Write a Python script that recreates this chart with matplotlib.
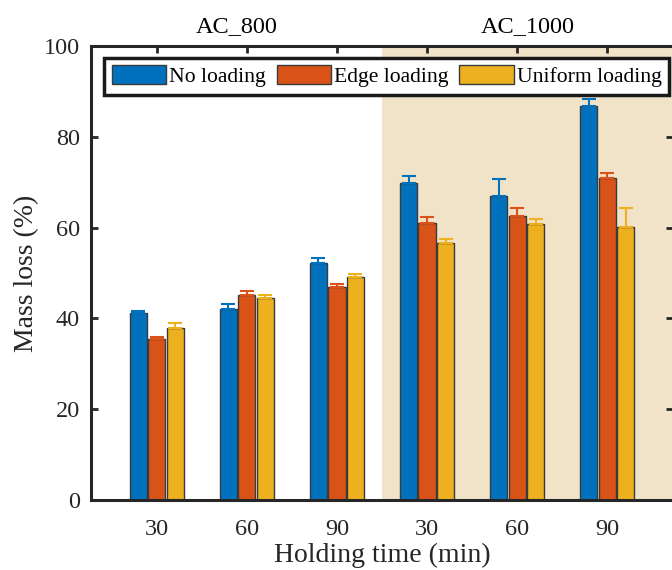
import matplotlib
matplotlib.use('Agg')
import matplotlib.pyplot as plt
import numpy as np

# Holding time categories for the two carbonisation sets
groups = ['AC_800', 'AC_1000']
tick_labels = ['30', '60', '90', '30', '60', '90']

# Mass loss (%) and upper error for each loading case
no_loading = [41.2, 42.0, 52.3, 69.9, 67.0, 86.8]
no_loading_err = [0.4, 1.1, 0.9, 1.5, 3.8, 1.6]
edge_loading = [35.4, 45.1, 46.9, 61.1, 62.6, 71.0]
edge_loading_err = [0.5, 0.9, 0.6, 1.3, 1.8, 1.1]
uniform_loading = [37.9, 44.5, 49.1, 56.5, 60.7, 60.2]
uniform_loading_err = [1.1, 0.6, 0.6, 0.9, 1.1, 4.2]

series = [
    ('No loading', no_loading, no_loading_err, '#0072BD'),
    ('Edge loading', edge_loading, edge_loading_err, '#D95319'),
    ('Uniform loading', uniform_loading, uniform_loading_err, '#EDB120'),
]

plt.rcParams['font.family'] = ['Liberation Serif', 'DejaVu Serif']
dark = '#262626'

fig = plt.figure(figsize=(6.72, 5.70), dpi=100)
ax = fig.add_axes([91 / 672, 70 / 570, 582 / 672, 454 / 570])

x = np.arange(1, len(tick_labels) + 1)
width = 0.19
offsets = [-0.205, 0.0, 0.205]

# shaded region for the second group
ax.axvspan(3.5, 7.0, color='#F1E3C8', zorder=0, lw=0)

for (name, vals, errs, color), off in zip(series, offsets):
    ax.bar(x + off, vals, width, color=color, edgecolor='#3a3a3a',
           linewidth=1.0, label=name, zorder=2)
    ax.errorbar(x + off, vals, yerr=[np.zeros(len(errs)), errs], fmt='none',
                ecolor=color, elinewidth=1.5, capsize=5, capthick=1.5, zorder=3)

ax.set_xlim(0.27, 6.73)
ax.set_ylim(0, 100)
ax.set_xticks(x)
ax.set_xticklabels(tick_labels)
ax.set_yticks(np.arange(0, 101, 20))

ax.tick_params(axis='both', direction='in', length=5, width=2,
               labelsize=17.5, colors=dark, top=True, right=True, pad=8)
ax.tick_params(axis='x', pad=14)
for sp in ax.spines.values():
    sp.set_linewidth(2.2)
    sp.set_color(dark)

ax.set_xlabel('Holding time (min)', fontsize=20, color=dark, labelpad=2)
ax.set_ylabel('Mass loss (%)', fontsize=20, color=dark, labelpad=3)

# group titles above the axes
ax.text((0.27 + 3.5) / 2, 1.042, groups[0], transform=ax.get_xaxis_transform(),
        ha='center', va='center', fontsize=17.5, color='black')
ax.text((3.5 + 6.73) / 2, 1.042, groups[1], transform=ax.get_xaxis_transform(),
        ha='center', va='center', fontsize=17.5, color='black')

leg = ax.legend(loc='upper center', bbox_to_anchor=(0.508, 0.974), ncol=3,
                fontsize=15.6, frameon=True, fancybox=False, framealpha=1,
                handlelength=2.5, handleheight=0.95, handletextpad=0.15,
                columnspacing=0.5, borderpad=0.35, borderaxespad=0)
leg.get_frame().set_edgecolor('#1a1a1a')
leg.get_frame().set_linewidth(2.5)
leg.set_zorder(5)

fig.savefig('out.png', dpi=100)
